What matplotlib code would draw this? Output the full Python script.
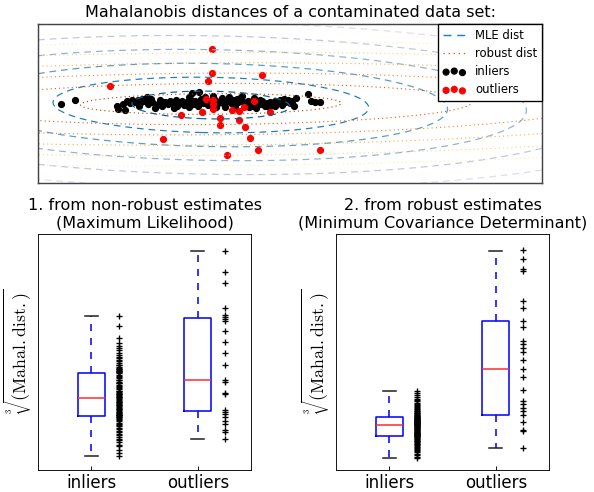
import numpy as np
import matplotlib
matplotlib.use("Agg")
import matplotlib.pyplot as plt
from matplotlib.colors import Normalize
from matplotlib.lines import Line2D

plt.rcParams['mathtext.fontset'] = 'cm'
plt.rcParams['lines.dashed_pattern'] = [5.5, 4.0]
plt.rcParams['lines.dotted_pattern'] = [1.0, 2.8]

# scatter data
inlier_x = [-5.23, -4.76, -3.33, -3.29, -3.13, -3.07, -3.01, -2.90, -2.82, -2.73,
            -2.64, -2.56, -2.48, -2.42, -2.34, -2.28, -2.17, -2.06, -2.00, -1.92,
            -1.81, -1.72, -1.63, -1.55, -1.47, -1.41, -1.33, -1.25, -1.16, -1.07,
            -0.99, -0.91, -0.84, -0.82, -0.76, -0.69, -0.62, -0.57, -0.51, -0.43,
            -0.37, -0.28, -0.20, -0.12, -0.03, 0.06, 0.13, 0.21, 0.28, 0.36,
            0.44, 0.51, 0.58, 0.64, 0.73, 0.81, 0.87, 0.92, 1.00, 1.09,
            1.18, 1.26, 1.34, 1.41, 1.48, 1.56, 1.65, 1.74, 1.82, 1.90,
            1.99, 2.08, 2.16, 2.24, 2.33, 2.42, 2.50, 2.57, 2.64, 2.69,
            3.09, 3.20, 3.34, 3.51, -2.60, -1.90, -1.30, -0.60, -0.10, 0.30,
            0.70, 1.10, 1.50, 2.00, -2.20, -0.90, 0.00, 1.30, 1.80, 2.30]
inlier_y = [-0.06, 0.44, -0.27, -0.69, -0.06, -0.82, 0.31, 0.02, 0.44, 0.23,
            0.44, 0.02, 0.57, 0.31, 0.86, -0.10, 0.15, -0.52, -0.19, 0.02,
            -0.27, 0.15, -0.10, 0.31, 0.02, -0.52, 0.44, 0.02, 0.31, -0.19,
            0.15, -0.40, 0.44, 1.28, -0.10, 0.31, -0.27, 1.49, 0.57, 0.02,
            0.86, -0.19, 0.31, -0.19, 0.44, 0.02, 0.23, 0.65, -0.10, 0.31,
            0.86, 0.02, 0.44, -0.27, 0.23, 0.65, 0.99, 0.15, -0.10, 0.31,
            -0.27, 0.02, -0.52, 0.23, -0.10, 0.31, -0.27, 0.02, 0.23, -0.10,
            0.31, 0.02, 0.44, -0.19, 0.15, 0.44, 0.02, 0.31, -0.27, 0.65,
            1.15, 0.31, 0.15, 0.23, -0.30, 0.50, -0.30, 0.00, 0.90, -0.40,
            0.60, -0.50, 0.50, -0.30, 0.60, 0.80, -0.50, 0.70, -0.40, 0.60]
outlier_x = [-0.13, -0.13, 1.55, -0.27, -3.58, -0.34, -0.11, 1.30, -0.09, -0.47,
             0.95, 0.78, 0.54, 1.81, -1.18, 0.13, 0.13, 0.78, 0.98, 1.15,
             -1.80, 1.42, 0.39, 3.50, -0.10]
outlier_y = [6.86, 3.87, 3.58, 2.83, 2.20, 0.63, 0.44, 0.31, -0.69, -1.03,
             -0.40, -0.91, -0.82, -1.03, -1.45, -1.87, -2.70, -2.08, -3.00, -4.34,
             -4.50, -5.85, -6.52, -5.85, -0.06]

# estimated locations / covariances for the distance contours
mle_center = [-0.17, -0.19]
mle_cov = [[7.08, -0.45], [-0.45, 3.06]]
mle_levels = [1, 2, 3, 4, 5, 6, 7]
mcd_center = [-0.17, -0.06]
mcd_cov = [[4.84, 0.12], [0.12, 0.42]]
mcd_levels = [2, 4, 6, 8, 10, 12, 14]

# cube root of Mahalanobis distances
mle_inlier_dist = [1.958, 1.835, 1.674, 1.62, 1.58, 1.55, 1.52, 1.49, 1.46, 1.44,
                   1.42, 1.40, 1.38, 1.36, 1.34, 1.33, 1.31, 1.30, 1.29, 1.28,
                   1.27, 1.26, 1.255, 1.25, 1.24, 1.23, 1.21, 1.20, 1.18, 1.17,
                   1.15, 1.14, 1.12, 1.11, 1.10, 1.08, 1.07, 1.05, 1.04, 1.03,
                   1.01, 1.00, 0.99, 0.98, 0.97, 0.96, 0.95, 0.94, 0.93, 0.925,
                   0.91, 0.90, 0.89, 0.88, 0.87, 0.86, 0.85, 0.84, 0.83, 0.82,
                   0.81, 0.80, 0.79, 0.78, 0.77, 0.76, 0.75, 0.74, 0.73, 0.72,
                   0.71, 0.705, 0.70, 0.695, 0.69, 0.68, 0.67, 0.66, 0.65, 0.63,
                   0.62, 0.60, 0.59, 0.57, 0.56, 0.54, 0.52, 0.50, 0.48, 0.46,
                   0.44, 0.42, 0.40, 0.38, 0.35, 0.32, 0.30, 0.26, 0.22, 0.182]
mle_outlier_dist = [2.784, 2.511, 2.377, 2.059, 1.970, 1.945, 1.919, 1.894, 1.767, 1.627,
                    1.487, 1.335, 1.144, 1.119, 0.985, 0.972, 0.763, 0.737, 0.712, 0.674,
                    0.623, 0.585, 0.508, 0.483, 0.394]
mcd_inlier_dist = [2.33, 2.28, 2.22, 2.17, 2.12, 2.08, 2.04, 2.00, 1.96, 1.93,
                   1.90, 1.87, 1.84, 1.81, 1.78, 1.76, 1.74, 1.72, 1.70, 1.68,
                   1.66, 1.64, 1.62, 1.60, 1.59, 1.57, 1.56, 1.55, 1.54, 1.53,
                   1.52, 1.51, 1.50, 1.49, 1.48, 1.47, 1.46, 1.45, 1.44, 1.43,
                   1.42, 1.41, 1.40, 1.39, 1.38, 1.37, 1.36, 1.35, 1.345, 1.34,
                   1.33, 1.32, 1.30, 1.29, 1.27, 1.26, 1.24, 1.23, 1.21, 1.20,
                   1.18, 1.17, 1.15, 1.14, 1.12, 1.11, 1.10, 1.09, 1.08, 1.07,
                   1.06, 1.05, 1.04, 1.03, 1.02, 1.01, 0.99, 0.97, 0.95, 0.93,
                   0.91, 0.89, 0.87, 0.85, 0.83, 0.80, 0.78, 0.76, 0.73, 0.71,
                   0.68, 0.65, 0.62, 0.59, 0.56, 0.52, 0.48, 0.44, 0.40, 0.346]
mcd_outlier_dist = [6.511, 6.273, 5.947, 5.917, 5.013, 4.805, 4.434, 4.242, 3.841, 3.737,
                    3.604, 3.500, 3.248, 2.996, 2.758, 2.373, 2.047, 1.943, 1.830, 1.750,
                    1.640, 1.424, 1.186, 1.163, 0.653]

# box statistics: whislo, q1, med, q3, whishi
mle_boxes = [(0.182, 0.686, 0.919, 1.237, 1.958), (0.398, 0.754, 1.140, 1.936, 2.784)]
mcd_boxes = [(0.346, 1.018, 1.335, 1.58, 2.33), (0.663, 1.641, 2.986, 4.41, 6.505)]
group_labels = ['inliers', 'outliers']


def mahal(xx, yy, center, cov):
    inv = np.linalg.inv(np.array(cov))
    dx = xx - center[0]
    dy = yy - center[1]
    d2 = inv[0, 0] * dx * dx + 2 * inv[0, 1] * dx * dy + inv[1, 1] * dy * dy
    return np.sqrt(d2)


fig = plt.figure(figsize=(7.425, 6.15), dpi=80)

# top panel: data set and contours
ax1 = fig.add_axes([0.064, 0.628, 0.8485, 0.3232])
inl = ax1.scatter(inlier_x, inlier_y, s=30, color='black', label='inliers')
outl = ax1.scatter(outlier_x, outlier_y, s=30, color='red', label='outliers')
ax1.set_xlim(-6, 11)
ax1.set_ylim(-10, 10)
ax1.set_title("Mahalanobis distances of a contaminated data set:", fontsize=14.4)
for sp in ax1.spines.values():
    sp.set_color('#444444')
    sp.set_linewidth(1.3)

xx, yy = np.meshgrid(np.linspace(-6, 11, 300), np.linspace(-10, 10, 300))
mle_norm = Normalize(-0.5, 7.5)
mcd_norm = Normalize(-1, 15)
ax1.contour(xx, yy, mahal(xx, yy, mle_center, mle_cov), levels=mle_levels,
            cmap=plt.cm.PuBu_r, norm=mle_norm, linestyles='dashed', linewidths=1.1)
ax1.contour(xx, yy, mahal(xx, yy, mcd_center, mcd_cov), levels=mcd_levels,
            cmap=plt.cm.YlOrBr_r, norm=mcd_norm, linestyles='dotted', linewidths=1.0)

mle_handle = Line2D([], [], color=plt.cm.PuBu_r(mle_norm(mle_levels[1])), ls='--', lw=1.3)
mcd_handle = Line2D([], [], color=plt.cm.YlOrBr_r(mcd_norm(mcd_levels[1])), ls=':', lw=1.2)
leg = ax1.legend([mle_handle, mcd_handle, inl, outl],
                 ['MLE dist', 'robust dist', 'inliers', 'outliers'],
                 loc='upper right', borderaxespad=0, scatterpoints=3, fontsize=10.5,
                 labelspacing=0.45, fancybox=False, edgecolor='black', framealpha=1)
leg.get_frame().set_linewidth(1.2)
ax1.set_xticks([])
ax1.set_yticks([])


def draw_scores(ax, boxes, inlier_vals, outlier_vals, ymax, title):
    stats = []
    for (lo, q1, med, q3, hi), name in zip(boxes, group_labels):
        stats.append(dict(whislo=lo, q1=q1, med=med, q3=q3, whishi=hi,
                          fliers=[], label=name))
    ax.bxp(stats, positions=[1, 2], widths=0.25, showfliers=False,
           boxprops=dict(color='blue', lw=1.4),
           medianprops=dict(color='#ff3030', lw=1.4),
           whiskerprops=dict(color='blue', lw=1.4, ls=(0, (4.5, 4.5))),
           capprops=dict(color='#222222', lw=1.4))
    ax.plot(np.full(len(inlier_vals), 1.26), inlier_vals, '+k', markeredgewidth=1.2, markersize=6)
    ax.plot(np.full(len(outlier_vals), 2.26), outlier_vals, '+k', markeredgewidth=1.2, markersize=6)
    ax.set_xlim(0.5, 2.5)
    ax.set_ylim(0, ymax)
    ax.set_xticks([1, 2])
    ax.set_xticklabels(group_labels, size=15)
    ax.tick_params(axis='x', direction='in', length=4)
    ax.set_yticks([])
    ax.set_ylabel(r"$\sqrt[3]{\rm{(Mahal. dist.)}}$", size=16)
    ax.set_title(title, fontsize=14.4)


ax2 = fig.add_axes([0.064, 0.0447, 0.3586, 0.4797])
draw_scores(ax2, mle_boxes, mle_inlier_dist, mle_outlier_dist, 3.0,
            "1. from non-robust estimates\n(Maximum Likelihood)")

ax3 = fig.add_axes([0.5657, 0.0447, 0.3586, 0.4797])
draw_scores(ax3, mcd_boxes, mcd_inlier_dist, mcd_outlier_dist, 7.0,
            "2. from robust estimates\n(Minimum Covariance Determinant)")

fig.savefig('out.png', dpi=80)
